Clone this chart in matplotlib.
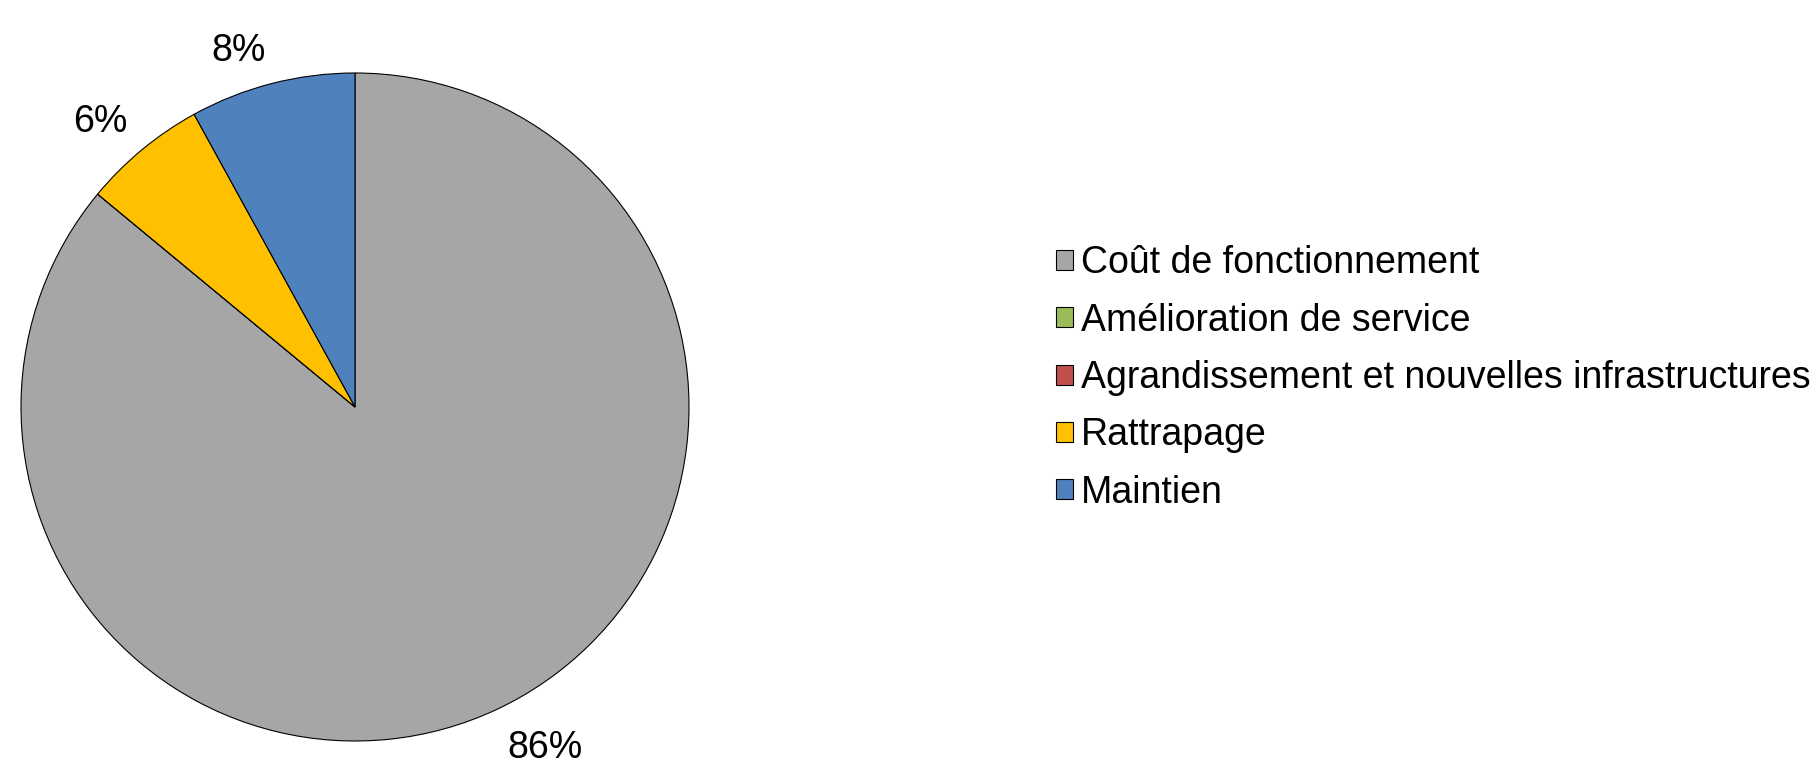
import numpy as np
import matplotlib.pyplot as plt

plt.rcParams['font.family'] = ['Liberation Sans', 'DejaVu Sans']

# categories in drawing order (clockwise from the top)
categories = ['Coût de fonctionnement', 'Amélioration de service',
              'Agrandissement et nouvelles infrastructures', 'Rattrapage', 'Maintien']
shares = [86, 0, 0, 6, 8]
colors = ['#A6A6A6', '#9BBB59', '#C0504D', '#FFC000', '#4F81BD']


def pct_label(p):
    # hide labels of the empty slices
    return '%.0f%%' % p if p > 0.5 else ''


W, H = 1813, 766
fig = plt.figure(figsize=(W / 100, H / 100), dpi=100)

cx, cy, r = 355, 407, 334
ax = fig.add_axes([(cx - r) / W, (H - cy - r) / H, 2 * r / W, 2 * r / H])
wedges, texts, autotexts = ax.pie(
    shares, colors=colors, startangle=90, counterclock=False,
    autopct=pct_label,
    wedgeprops=dict(edgecolor='black', linewidth=0.8),
    textprops=dict(fontsize=27, color='black'))
ax.set_xlim(-1, 1)
ax.set_ylim(-1, 1)
ax.set_aspect('equal')

# "outside end" labels: the corner of the text touches a point just outside the rim
for w, t in zip(wedges, autotexts):
    ang = np.deg2rad((w.theta1 + w.theta2) / 2)
    dx, dy = np.cos(ang), np.sin(ang)
    t.set_position((1.07 * dx, 1.07 * dy))
    t.set_ha('left' if dx > 0 else 'right')
    t.set_va('baseline' if dy > 0 else 'top')
    t.set_clip_on(False)

fig.legend(wedges, categories, loc='center left',
           bbox_to_anchor=(1056 / W, 1 - 378 / H), bbox_transform=fig.transFigure,
           frameon=False, fontsize=27, handlelength=0.45, handleheight=0.45,
           handletextpad=0.22, labelspacing=0.57, borderpad=0, borderaxespad=0)

fig.savefig('out.png', dpi=100)
